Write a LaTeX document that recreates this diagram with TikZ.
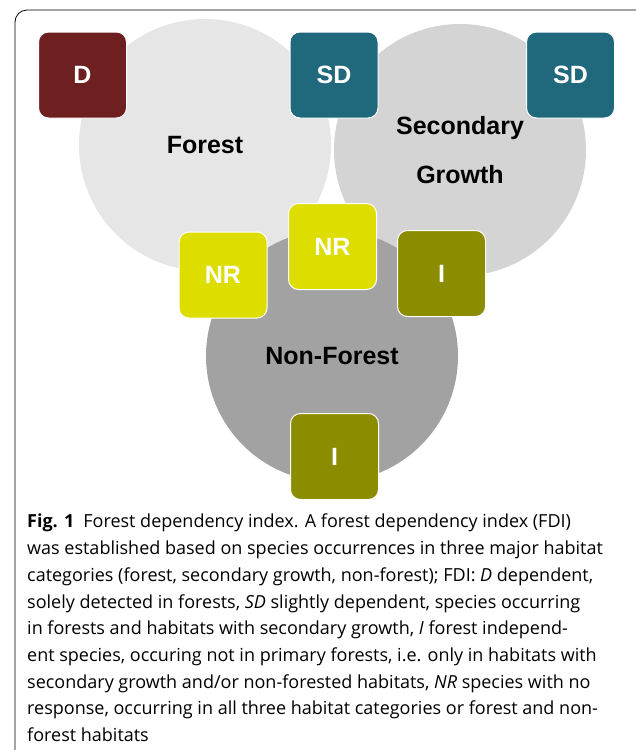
\documentclass[tikz,border=0pt]{standalone}
\usepackage{fontspec}
\setmainfont{Open Sans}
\setsansfont{Liberation Sans}
\usepackage{tikz}
\usetikzlibrary{positioning}

\definecolor{forestgray}{RGB}{230,230,230}
\definecolor{secgray}{RGB}{212,212,212}
\definecolor{nongray}{RGB}{162,162,162}
\definecolor{dcol}{RGB}{110,32,32}
\definecolor{sdcol}{RGB}{32,104,124}
\definecolor{nrcol}{RGB}{221,221,0}
\definecolor{icol}{RGB}{140,140,0}

\begin{document}
\begin{tikzpicture}[
  x=1pt, y=-1pt,
  habitat/.style={circle, minimum size=252pt, inner sep=0pt, align=center,
    font=\fontsize{25}{49}\selectfont\sffamily\bfseries},
  fdibox/.style={rounded corners=10pt, minimum width=88pt, minimum height=86pt,
    inner sep=0pt, draw=white, line width=1pt, text=white,
    font=\fontsize{25}{30}\selectfont\sffamily\bfseries},
  dep/.style={fdibox, fill=dcol},
  sdep/.style={fdibox, fill=sdcol},
  nresp/.style={fdibox, fill=nrcol},
  indep/.style={fdibox, fill=icol},
]
\useasboundingbox (0,0) rectangle (636,750);

% outer frame, open at the bottom
\draw[line width=0.8pt, rounded corners=12pt] (15,760) -- (15,10) -- (650,10) -- (650,760);

% habitat circles
\node[habitat, fill=forestgray] (forest) at (205,145) {Forest};
\node[habitat, fill=secgray] (second) at (460,150) {Secondary\\Growth};
\node[habitat, fill=nongray] (nonfor) at (332,356) {Non-Forest};

% FDI boxes
\node[dep] (d1) at (82.5,75) {D};
\node[sdep] (sd1) at (334,75) {SD};
\node[sdep] (sd2) at (570.5,75) {SD};
\node[nresp] (nr1) at (223,275) {NR};
\node[nresp] (nr2) at (332.5,246.5) {NR};
\node[indep] (i1) at (441.5,273.5) {I};
\node[indep] (i2) at (334.5,456.5) {I};

% caption
\node[anchor=north west, inner sep=0pt, align=left,
  font=\fontsize{18}{26.7}\selectfont] (cap) at (27,514) {%
\textbf{Fig. 1}\enspace Forest dependency index. A forest dependency index (FDI)\\%
was established based on species occurrences in three major habitat\\%
categories (forest, secondary growth, non-forest); FDI: \textit{D} dependent,\\%
solely detected in forests, \textit{SD} slightly dependent, species occurring\\%
in forests and habitats with secondary growth, \textit{I} forest independ-\\%
ent species, occuring not in primary forests, i.e. only in habitats with\\%
secondary growth and/or non-forested habitats, \textit{NR} species with no\\%
response, occurring in all three habitat categories or forest and non-\\%
forest habitats};

\end{tikzpicture}
\end{document}
